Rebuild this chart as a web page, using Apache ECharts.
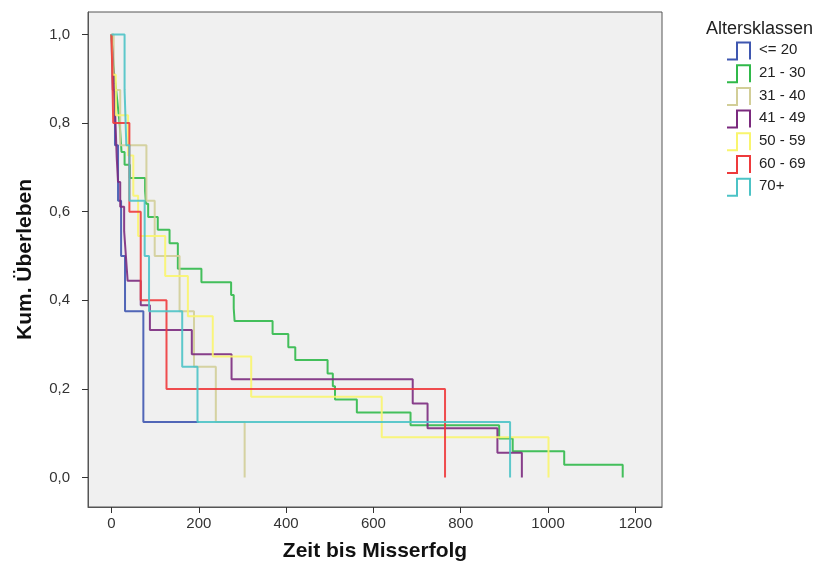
<!DOCTYPE html>
<html><head><meta charset="utf-8">
<script src="https://cdn.jsdelivr.net/npm/echarts@6/dist/echarts.min.js"></script>
<style>html,body{margin:0;padding:0;background:#fff}#c{width:829px;height:574px}</style>
</head><body><div id="c"></div>
<script>
// ---- data ----
const groupNames = ['<= 20', '21 - 30', '31 - 40', '41 - 49', '50 - 59', '60 - 69', '70+'];
const groupColors = ['#3F57B0', '#30B94A', '#D2CE98', '#7B2A7E', '#F9F56E', '#EE3A3C', '#4CC3C6'];
const xTickValues = [0, 200, 400, 600, 800, 1000, 1200];
const yTickValues = [0, 0.2, 0.4, 0.6, 0.8, 1.0];

const timesLe20 = [0, 3, 8, 15, 22, 31, 73, 200];
const survLe20  = [1, 0.875, 0.75, 0.625, 0.5, 0.375, 0.125, 0.125];

const times21to30 = [0, 2, 4, 6, 10, 13, 16, 19, 21, 23, 30, 42, 77, 79, 84, 106, 133, 152, 206, 274, 280, 282, 369, 405, 421, 495, 507, 512, 562, 685, 888, 919, 1037, 1171];
const surv21to30  = [1, 0.971, 0.941, 0.912, 0.882, 0.853, 0.824, 0.794, 0.765, 0.735, 0.706, 0.676, 0.647, 0.618, 0.588, 0.559, 0.529, 0.471, 0.441, 0.412, 0.382, 0.353, 0.324, 0.294, 0.265, 0.235, 0.206, 0.176, 0.147, 0.118, 0.088, 0.059, 0.029, 0];

const times31to40 = [0, 5, 20, 80, 99, 156, 189, 239, 305];
const surv31to40  = [1, 0.875, 0.75, 0.625, 0.5, 0.375, 0.25, 0.125, 0];

const times41to49 = [0, 3, 5, 8, 10, 12, 15, 20, 29, 33, 37, 67, 88, 184, 275, 690, 724, 884, 940];
const surv41to49  = [1, 0.944, 0.889, 0.833, 0.778, 0.722, 0.667, 0.611, 0.556, 0.5, 0.444, 0.389, 0.333, 0.278, 0.222, 0.167, 0.111, 0.056, 0];

const times50to59 = [0, 3, 10, 38, 50, 61, 123, 175, 232, 320, 619, 1001];
const surv50to59  = [1, 0.909, 0.818, 0.727, 0.636, 0.545, 0.455, 0.364, 0.273, 0.182, 0.091, 0];

const times60to69 = [0, 2, 4, 41, 67, 126, 764];
const surv60to69  = [1, 0.9, 0.8, 0.6, 0.4, 0.2, 0];

const times70plus = [0, 30, 34, 41, 76, 86, 162, 197, 913];
const surv70plus  = [1, 0.875, 0.75, 0.625, 0.5, 0.375, 0.25, 0.125, 0];

const groupTimes = [timesLe20, times21to30, times31to40, times41to49, times50to59, times60to69, times70plus];
const groupSurv  = [survLe20, surv21to30, surv31to40, surv41to49, surv50to59, surv60to69, surv70plus];

// ---- chart ----
const chart = echarts.init(document.getElementById('c'), null, {renderer: 'canvas'});
const FONT = 'Arial, "Liberation Sans", sans-serif';

const series = groupNames.map((name, i) => ({
  name: name,
  type: 'line',
  step: 'end',
  symbol: 'none',
  silent: true,
  lineStyle: {color: groupColors[i], width: 2, opacity: 0.9},
  itemStyle: {color: groupColors[i]},
  data: groupTimes[i].map((t, k) => [t, groupSurv[i][k]])
}));

const legendTop = 51.5;
const legendStep = 22.7;
const legendGraphics = [{
  type: 'text', left: 706, top: 20,
  style: {text: 'Altersklassen', font: '18px ' + FONT, fill: '#222'}
}];
groupNames.forEach((name, i) => {
  const cy = legendTop + i * legendStep;
  legendGraphics.push({
    type: 'polyline',
    shape: {points: [[727, cy + 8], [737, cy + 8], [737, cy - 9], [750, cy - 9], [750, cy + 8]]},
    style: {stroke: groupColors[i], lineWidth: 2, fill: null}
  });
  legendGraphics.push({
    type: 'text', left: 759, top: cy - 9,
    style: {text: name, font: '15px ' + FONT, fill: '#222'}
  });
});

chart.setOption({
  animation: false,
  backgroundColor: '#ffffff',
  grid: {left: 88, top: 12, width: 574, height: 495, show: true,
         backgroundColor: '#F0F0F0', borderColor: '#555', borderWidth: 1},
  xAxis: {
    type: 'value', min: -53.8, max: 1261,
    name: 'Zeit bis Misserfolg', nameLocation: 'middle', nameGap: 34,
    nameTextStyle: {fontFamily: FONT, fontSize: 21, fontWeight: 'bold', color: '#111'},
    axisLine: {show: true, onZero: false, lineStyle: {color: '#555'}},
    axisTick: {show: true, length: 6, customValues: xTickValues, lineStyle: {color: '#333'}},
    axisLabel: {customValues: xTickValues, margin: 9, fontFamily: FONT, fontSize: 15, color: '#333',
                formatter: v => String(Math.round(v))},
    splitLine: {show: false}
  },
  yAxis: {
    type: 'value', min: -0.0666, max: 1.0508,
    name: 'Kum. Überleben', nameLocation: 'middle', nameGap: 52, nameRotate: 90,
    nameTextStyle: {fontFamily: FONT, fontSize: 21, fontWeight: 'bold', color: '#111'},
    axisLine: {show: true, onZero: false, lineStyle: {color: '#555'}},
    axisTick: {show: true, length: 6, customValues: yTickValues, lineStyle: {color: '#333'}},
    axisLabel: {customValues: yTickValues, margin: 18, fontFamily: FONT, fontSize: 15, color: '#333',
                formatter: v => v.toFixed(1).replace('.', ',')},
    splitLine: {show: false}
  },
  graphic: legendGraphics,
  series: series
});
</script></body></html>
